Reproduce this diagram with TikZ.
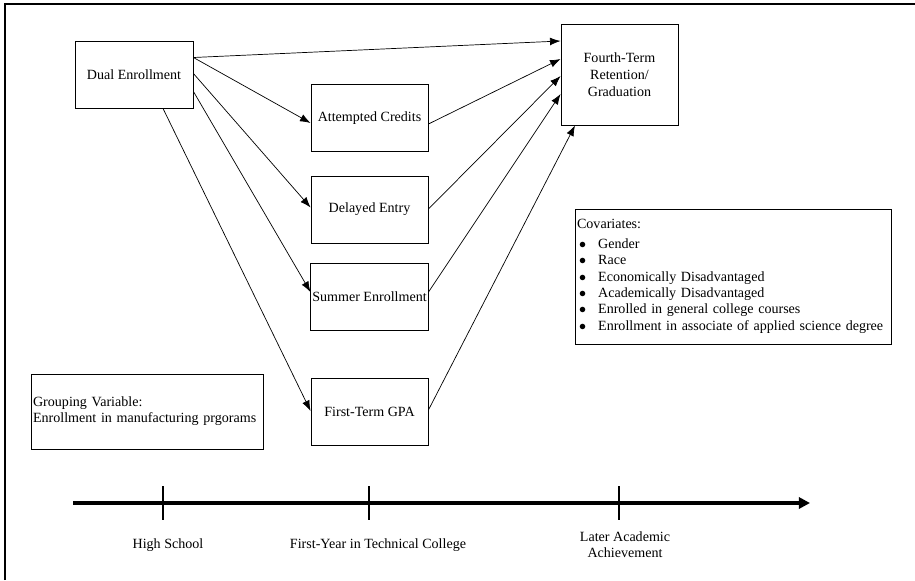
\documentclass[tikz,border=0pt]{standalone}
\usepackage{fontspec}
\setmainfont{Liberation Serif}
\usetikzlibrary{arrows.meta,calc}

\newcommand{\covitem}[1]{\makebox[15pt][l]{\hspace{1.5pt}$\bullet$}#1}

\begin{document}
\begin{tikzpicture}[
    x=0.025cm, y=-0.025cm,
    every node/.style={font=\fontsize{10}{12}\selectfont},
    varbox/.style={draw, line width=0.6pt, minimum width=2.925cm, minimum height=1.675cm, inner sep=1pt, align=center},
    notebox/.style={draw, line width=0.6pt, align=left, inner xsep=1.5pt, inner ysep=0pt},
    link/.style={-{Latex[length=7.5pt,width=5.5pt]}, line width=0.5pt},
    timeline/.style={line width=2.3pt, -{Triangle[length=8pt,width=8pt]}},
    yeartick/.style={line width=1.8pt},
    stage/.style={align=center, font=\fontsize{10}{11.4}\selectfont}
]

\useasboundingbox (0,0) rectangle (915,580);

% Frame
\draw[line width=0.8pt] (5,580) -- (5,4) -- (915,4);

% Predictor
\node[varbox, minimum width=2.95cm] (dual) at (134,74.5) {Dual Enrollment};

% Mediators
\node[varbox] (credits) at (369.5,118) {Attempted Credits};
\node[varbox] (delayed) at (369.5,209.5) {Delayed Entry};
\node[varbox] (summer) at (369.5,297) {Summer Enrollment};
\node[varbox] (gpa) at (369.5,412) {First-Term GPA};

% Outcome
\node[varbox, minimum height=2.525cm] (retention) at (619.5,74.5) {Fourth-Term\\Retention/\\Graduation};

% Notes
\node[notebox, text width=7.9cm-3pt, minimum height=3.375cm, font=\fontsize{10}{11.7}\selectfont] (covar) at (733,276.5) {Covariates:\\[2pt]
\covitem{Gender}\\
\covitem{Race}\\
\covitem{Economically Disadvantaged}\\
\covitem{Academically Disadvantaged}\\
\covitem{Enrolled in general college courses}\\
\covitem{Enrollment in associate of applied science degree}};
\node[notebox, text width=5.8cm-3pt, minimum height=1.875cm, font=\fontsize{10}{11.4}\selectfont] (group) at (147,411.5) {Grouping Variable:\\Enrollment in manufacturing prgorams};

% Paths from dual enrollment
\draw[link] ($(dual.east)+(0,-17)$) -- ($(retention.west)+(0,-33.5)$);
\draw[link] ($(dual.east)+(0,-17)$) -- ($(credits.west)+(0,5)$);
\draw[link] ($(dual.east)+(0,-1)$) -- ($(delayed.west)+(0,-2)$);
\draw[link] ($(dual.east)+(0,17)$) -- ($(summer.west)+(0,-5)$);
\draw[link] ($(dual.south)+(29,0)$) -- ($(gpa.west)+(0,-1)$);

% Paths to retention
\draw[link] ($(credits.east)+(0,6)$) -- ($(retention.west)+(0,-15.5)$);
\draw[link] ($(delayed.east)+(0,-0.5)$) -- ($(retention.west)+(0,1.5)$);
\draw[link] ($(summer.east)+(0,-5)$) -- ($(retention.west)+(0,19.5)$);
\draw[link] ($(gpa.east)+(0,-2)$) -- ($(retention.south)+(-44.5,0)$);

% Timeline
\coordinate (tlstart) at (73,503);
\coordinate (tlend) at (810,503);
\draw[timeline] (tlstart) -- (tlend);
\foreach \x in {163,369,619}
  \draw[yeartick] (\x,486) -- (\x,520);
\node[stage] (school) at (168,545) {High School};
\node[stage] (firstyear) at (378,545) {First-Year in Technical College};
\node[stage] (later) at (625,545) {Later Academic\\Achievement};

\end{tikzpicture}
\end{document}
